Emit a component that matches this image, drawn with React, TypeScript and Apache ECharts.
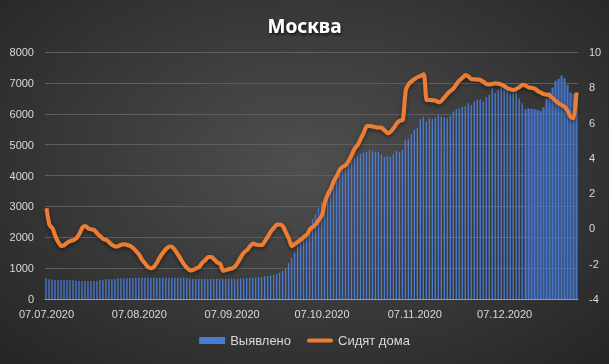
import React, { useEffect, useRef } from "react";
import * as echarts from "echarts";

// Category axis: daily dates 07.07.2020 .. 31.12.2020
const startDate = { year: 2020, month: 6, day: 7 };
const dayCount = 178;
const categories: string[] = [];
for (let i = 0; i < dayCount; i++) {
  const d = new Date(Date.UTC(startDate.year, startDate.month, startDate.day + i));
  const dd = String(d.getUTCDate()).padStart(2, "0");
  const mm = String(d.getUTCMonth() + 1).padStart(2, "0");
  categories.push(`${dd}.${mm}.${d.getUTCFullYear()}`);
}

// "Выявлено" – new cases per day (left axis)
const detected: number[] = [
  660, 640, 620, 615, 615, 615, 615, 615, 605, 605, 600, 585, 585, 585, 585, 585, 585, 590, 615, 620,
  640, 640, 640, 645, 670, 670, 675, 675, 680, 680, 680, 680, 685, 690, 690, 690, 685, 690, 690, 690,
  690, 690, 690, 685, 685, 690, 685, 680, 650, 645, 650, 650, 645, 650, 650, 650, 645, 650, 650, 650,
  650, 650, 655, 650, 655, 660, 665, 680, 685, 690, 690, 700, 710, 730, 745, 755, 780, 810, 853, 918,
  994, 1156, 1318, 1500, 1695, 1825, 1965, 2106, 2258, 2590, 2750, 2950, 3150, 3320, 3480, 3640, 3800, 3960, 4070, 4180,
  4230, 4340, 4450, 4560, 4630, 4700, 4740, 4770, 4830, 4800, 4770, 4770, 4670, 4590, 4630, 4610, 4700, 4800, 4770, 4830,
  5150, 5175, 5335, 5475, 5530, 5820, 5905, 5745, 5855, 5830, 5875, 5960, 5905, 5885, 5855, 5930, 6070, 6145, 6180, 6230,
  6255, 6340, 6285, 6395, 6450, 6470, 6395, 6535, 6610, 6825, 6665, 6770, 6860, 6860, 6825, 6685, 6685, 6685, 6500, 6340,
  6145, 6180, 6155, 6155, 6125, 6090, 6210, 6500, 6700, 6850, 7065, 7130, 7235, 7150, 6935, 6695, 6630, 6695,
];

// "Сидят дома" – right axis
const stayHome: number[] = [
  1.14, 0.2, 0.02, -0.45, -0.8, -1.0, -0.94, -0.8, -0.7, -0.66, -0.55, -0.3, 0.05, 0.14, 0.0, -0.05, -0.09, -0.3, -0.45, -0.6,
  -0.65, -0.8, -0.95, -1.03, -1.0, -0.92, -0.9, -0.94, -1.0, -1.13, -1.3, -1.5, -1.8, -2.0, -2.2, -2.26, -2.15, -1.9, -1.6, -1.35,
  -1.15, -1.02, -1.05, -1.25, -1.5, -1.79, -2.05, -2.25, -2.38, -2.35, -2.26, -2.18, -1.95, -1.8, -1.62, -1.62, -1.75, -1.92, -2.0, -2.4,
  -2.35, -2.3, -2.26, -2.15, -1.9, -1.6, -1.35, -1.22, -1.0, -0.85, -0.92, -0.94, -0.94, -0.7, -0.45, -0.15, 0.05, 0.22, 0.22, 0.12,
  -0.25, -0.6, -1.0, -0.88, -0.75, -0.62, -0.47, -0.35, -0.05, 0.1, 0.25, 0.5, 0.75, 1.5, 1.95, 2.28, 2.7, 3.0, 3.35, 3.5,
  3.6, 3.85, 4.2, 4.55, 4.75, 5.1, 5.45, 5.8, 5.81, 5.78, 5.73, 5.72, 5.7, 5.54, 5.4, 5.5, 5.7, 5.96, 6.1, 6.15,
  7.85, 8.2, 8.35, 8.48, 8.58, 8.65, 8.74, 7.28, 7.28, 7.27, 7.24, 7.15, 7.25, 7.45, 7.66, 7.8, 7.95, 8.2, 8.4, 8.55,
  8.7, 8.6, 8.45, 8.45, 8.44, 8.41, 8.3, 8.18, 8.17, 8.2, 8.23, 8.2, 8.15, 8.06, 7.95, 7.89, 7.85, 7.92, 8.02, 8.15,
  8.1, 8.0, 7.97, 7.93, 7.8, 7.7, 7.62, 7.58, 7.55, 7.4, 7.25, 7.1, 7.0, 6.9, 6.7, 6.33, 6.24, 7.7,
];

const leftAxis = { min: 0, max: 8000, interval: 1000 };
const rightAxis = { min: -4, max: 10, interval: 2 };
const thickFromIndex = 160;

export default function App() {
  const ref = useRef<HTMLDivElement>(null);
  useEffect(() => {
    if (!ref.current) return;
    const chart = echarts.init(ref.current, undefined, { renderer: "svg" });
    const font = "Liberation Sans";
    const labelColor = "#d9d9d9";
    const thin = detected.map((v, i) => (i < thickFromIndex ? v : null));
    const thick = detected.map((v, i) => (i >= thickFromIndex ? v : null));
    const isTick = (i: number) => categories[i].startsWith("07.");
    chart.setOption({
      animation: false,
      backgroundColor: "transparent",
      textStyle: { fontFamily: font },
      title: {
        text: "Москва",
        left: "center",
        top: 11,
        textStyle: {
          color: "#ffffff",
          fontSize: 19,
          fontWeight: "bold",
          fontFamily: "Noto Sans",
          textShadowColor: "rgba(0,0,0,0.7)",
          textShadowBlur: 3,
          textShadowOffsetX: 1,
          textShadowOffsetY: 2,
        },
      },
      legend: {
        data: [
          { name: "Выявлено", icon: "rect" },
          { name: "Сидят дома", icon: "path://M2,0 L24,0 A2,2 0 0 1 24,4 L2,4 A2,2 0 0 1 2,0 Z" },
        ],
        bottom: 12,
        left: "center",
        itemWidth: 26,
        itemHeight: 7,
        itemGap: 16,
        textStyle: { color: labelColor, fontSize: 13, fontFamily: font },
      },
      grid: { left: 45, right: 31, top: 52, bottom: 65 },
      xAxis: {
        type: "category",
        data: categories,
        boundaryGap: true,
        axisLine: { lineStyle: { color: "#9a9a9a", width: 1 } },
        axisTick: { interval: (i: number) => isTick(i), length: 5, lineStyle: { color: "#9a9a9a" } },
        axisLabel: {
          interval: (i: number) => isTick(i),
          color: labelColor,
          fontSize: 11,
          margin: 9,
          fontFamily: font,
        },
        splitLine: { show: false },
      },
      yAxis: [
        {
          type: "value",
          ...leftAxis,
          axisLine: { show: false },
          axisTick: { show: false },
          axisLabel: {
            color: labelColor,
            fontSize: 11,
            margin: 11,
            fontFamily: font,
            formatter: (v: number) => String(v),
          },
          splitLine: { lineStyle: { color: "#5e5e5e", width: 1 } },
        },
        {
          type: "value",
          ...rightAxis,
          position: "right",
          axisLine: { show: false },
          axisTick: { show: false },
          axisLabel: {
            color: labelColor,
            fontSize: 11,
            margin: 11,
            fontFamily: font,
            formatter: (v: number) => String(v),
          },
          splitLine: { show: false },
        },
      ],
      series: [
        {
          name: "Выявлено",
          type: "bar",
          data: thin,
          barWidth: 1.3,
          barGap: "-100%",
          itemStyle: { color: "#4a7cd6" },
        },
        {
          name: "Выявлено",
          type: "bar",
          data: thick,
          barWidth: 2.2,
          itemStyle: { color: "#4574c8" },
        },
        {
          name: "Сидят дома",
          type: "line",
          yAxisIndex: 1,
          data: stayHome,
          symbol: "none",
          smooth: 0.25,
          lineStyle: {
            color: "#ED7D31",
            width: 4,
            shadowColor: "rgba(0,0,0,0.45)",
            shadowBlur: 4,
            shadowOffsetY: 2,
          },
          itemStyle: { color: "#ED7D31" },
        },
      ],
    });
    return () => chart.dispose();
  }, []);
  return (
    <div
      ref={ref}
      style={{
        position: "fixed",
        left: 0,
        top: 0,
        width: 609,
        height: 364,
        background: "radial-gradient(ellipse at 50% 45%, #4f4f4f 0%, #3c3c3c 45%, #252525 100%)",
      }}
    />
  );
}
